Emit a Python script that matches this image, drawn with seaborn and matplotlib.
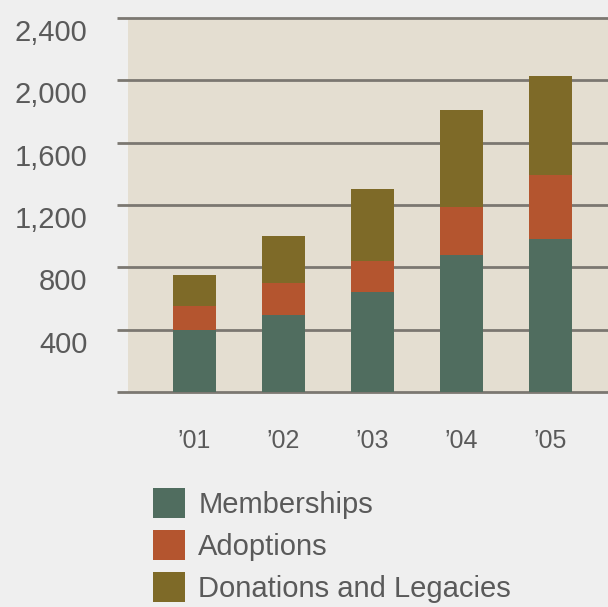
import numpy as np
import pandas as pd
import matplotlib
matplotlib.use("Agg")
import matplotlib.pyplot as plt
import matplotlib.transforms as mtransforms
from matplotlib.patches import Patch
import seaborn as sns

# Income by source, by year
years = ["\u201901", "\u201902", "\u201903", "\u201904", "\u201905"]
memberships = [395, 495, 640, 880, 980]
adoptions = [155, 205, 200, 310, 410]
donations = [200, 300, 460, 620, 640]

series_names = ["Memberships", "Adoptions", "Donations and Legacies"]
series_colors = ["#506d5f", "#b4552f", "#7e6a28"]
y_ticks = [400, 800, 1200, 1600, 2000, 2400]
y_tick_labels = ["400", "800", "1,200", "1,600", "2,000", "2,400"]

plt.rcParams["font.family"] = ["Liberation Sans", "DejaVu Sans"]
text_color = "#5a5a5a"

fig = plt.figure(figsize=(6.08, 6.07), dpi=100, facecolor="#efefef")
ax = fig.add_axes([128 / 608, (607 - 392) / 607, 480 / 608, 374 / 607])
ax.set_facecolor("#e4ded1")

# stacked bars: draw the cumulative totals back to front
df = pd.DataFrame({"year": years, "Memberships": memberships,
                   "Adoptions": adoptions, "Donations and Legacies": donations})
stack = df[series_names].cumsum(axis=1)
for name, color in reversed(list(zip(series_names, series_colors))):
    sns.barplot(x=df["year"], y=stack[name], order=years, color=color,
                saturation=1, width=0.48, linewidth=0, ax=ax, zorder=2)

# horizontal rules, running slightly past the left edge of the panel
ax.hlines([0] + y_ticks, xmin=-11 / 480, xmax=1, transform=ax.get_yaxis_transform(),
          colors="#7b7771", linewidth=2, clip_on=False, zorder=1)

ax.set_ylim(0, 2400)
ax.set_xlim(-0.747, 4.646)
ax.set_xlabel("")
ax.set_ylabel("")
for s in ax.spines.values():
    s.set_visible(False)

ax.set_yticks(y_ticks)
ax.set_yticklabels(y_tick_labels, fontsize=21, color=text_color)
ax.tick_params(axis="y", length=0, pad=29)
offset = mtransforms.ScaledTranslation(0, -12 / 100, fig.dpi_scale_trans)
for lbl in ax.get_yticklabels():
    lbl.set_transform(lbl.get_transform() + offset)

ax.tick_params(axis="x", length=0, pad=27, labelsize=18, labelcolor=text_color)

handles = [Patch(facecolor=c, edgecolor="none") for c in series_colors]
fig.legend(handles, series_names, loc="upper left",
           bbox_to_anchor=(153 / 608, 1 - 488 / 607), frameon=False,
           fontsize=21, labelcolor=text_color, handlelength=1.1, handleheight=1.19,
           handletextpad=0.45, labelspacing=0.39, borderpad=0, borderaxespad=0)

fig.savefig("out.png", dpi=100, facecolor=fig.get_facecolor())
